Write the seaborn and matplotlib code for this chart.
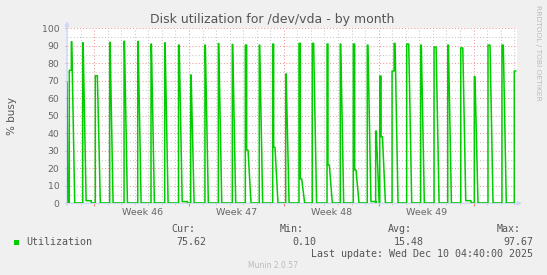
import numpy as np
import pandas as pd
import matplotlib
matplotlib.use("Agg")
import matplotlib.pyplot as plt
import seaborn as sns
from matplotlib.ticker import FixedLocator, MultipleLocator

# ---------------- data (days since graph start) ----------------
start_value = 69.0
baseline = 0.2
spike_start = [0.17, 1.16, 2.09, 3.15, 4.21, 5.22, 6.20, 7.21, 8.23, 9.13,
               10.18, 11.17, 12.20, 13.16, 14.19, 15.18, 16.14, 17.12, 18.10, 19.19,
               20.17, 21.13, 22.16, 22.78, 23.08, 23.99, 25.07, 26.10, 27.09, 28.10,
               29.06, 30.06, 31.07, 32.10, 33.01]
spike_pre = [76.0, 0, 0, 0, 0, 0, 0, 0, 0, 0,
             0, 0, 0, 0, 0, 0, 0, 0, 0, 0,
             0, 0, 0, 0, 0, 75.6, 0, 0, 0, 0,
             0, 0, 0, 0, 0]
spike_peak = [92.3, 91.8, 72.9, 92.0, 92.6, 92.5, 91.0, 91.7, 90.4, 73.3,
              90.4, 91.3, 90.8, 90.4, 90.4, 91.0, 73.9, 91.4, 91.4, 91.0,
              91.0, 91.0, 90.4, 41.3, 72.7, 91.4, 91.0, 90.4, 89.3, 90.4,
              88.8, 72.4, 90.4, 90.4, 75.6]
spike_hold = [0.03, 0.03, 0.15, 0.03, 0.03, 0.03, 0.03, 0.03, 0.05, 0.03,
              0.03, 0.03, 0.03, 0.10, 0.03, 0.07, 0.03, 0.10, 0.10, 0.07,
              0.03, 0.10, 0.05, 0.04, 0.10, 0.07, 0.15, 0.05, 0.15, 0.05,
              0.15, 0.05, 0.15, 0.10, 0.10]
spike_step = [0, 0, 0, 0, 0, 0, 0, 0, 0, 0,
              0, 0, 0, 30.4, 0, 32.0, 0, 13.9, 0, 21.9,
              0, 19.0, 0, 0, 38.0, 0, 0, 0, 0, 0,
              0, 0, 0, 0, 0]
spike_tail = [0, 1.5, 0, 0, 0, 0, 0, 0, 1.0, 0,
              0, 0, 0, 0, 0, 0, 0, 0, 0, 0,
              0, 0, 1.0, 0, 0, 0, 0, 0, 0, 0,
              1.5, 0, 0, 0, 0]

week_bounds = [2.0, 9.0, 16.0, 23.0, 30.0]
week_mid = [5.55, 12.55, 19.55, 26.5]
week_labels = ["Week 46", "Week 47", "Week 48", "Week 49"]
y_ticks = [0, 10, 20, 30, 40, 50, 60, 70, 80, 90, 100]
x_span = 450 / 13.55

legend_name = "Utilization"
stat_names = ["Cur:", "Min:", "Avg:", "Max:"]
stat_values = ["75.62", "0.10", "15.48", "97.67"]
last_update = "Last update: Wed Dec 10 04:40:00 2025"
title = "Disk utilization for /dev/vda - by month"

# ---------------- build polyline ----------------
FALL = 0.22
t = [0.0, 0.07]
v = [start_value, baseline]
n = len(spike_start)
for i in range(n):
    s = spike_start[i]
    t.append(s); v.append(baseline)
    cur = s
    if spike_pre[i] > 0:
        t += [cur, cur + 0.15]; v += [spike_pre[i], spike_pre[i]]
        cur += 0.15
    t += [cur, cur + spike_hold[i]]; v += [spike_peak[i], spike_peak[i]]
    cur += spike_hold[i]
    if spike_step[i] > 0:
        t += [cur, cur + 0.1]; v += [spike_step[i], spike_step[i]]
        cur += 0.1
    if i == n - 1:
        break
    if spike_tail[i] > 0:
        t += [cur + FALL, cur + 0.6, cur + 0.61]
        v += [spike_tail[i], spike_tail[i], baseline]
    else:
        t.append(cur + FALL); v.append(baseline)

df = pd.DataFrame({"t": t, "v": v})

# ---------------- figure ----------------
W, H = 547, 275
fig = plt.figure(figsize=(W / 100, H / 100), dpi=100, facecolor="#F0F0F0")
ax = fig.add_axes([67 / W, 1 - 203.3 / H, 450 / W, 175 / H])
ax.set_facecolor("white")

sns.lineplot(data=df, x="t", y="v", sort=False, estimator=None,
             color="#00CC00", lw=1.1, ax=ax, zorder=5)

ax.set_xlim(0, x_span)
ax.set_ylim(0, 100)
ax.set_xlabel("")
ax.set_ylabel("% busy", fontsize=7.5, color="#555555", labelpad=18)

ax.xaxis.set_major_locator(FixedLocator(week_bounds))
ax.xaxis.set_minor_locator(MultipleLocator(1))
ax.yaxis.set_major_locator(FixedLocator(y_ticks))
ax.yaxis.set_minor_locator(MultipleLocator(5))
ax.set_yticklabels([str(y) for y in y_ticks])
ax.set_axisbelow(True)
ax.grid(which="major", color="#EE9999", ls=(0, (1, 2)), lw=0.75)
ax.grid(which="minor", color="#C8C8C8", ls=(0, (1, 2)), lw=0.75)

ax.tick_params(axis="x", which="major", length=2, color="#F08080", labelbottom=False, direction="out")
ax.tick_params(axis="x", which="minor", length=1.5, color="#CCCCCC", direction="out")
ax.tick_params(axis="y", which="major", length=1.5, color="#AAAAAA", pad=4.0,
               labelsize=6.7, labelcolor="#666666", direction="out")
ax.tick_params(axis="y", which="minor", length=0)
for sp in ax.spines.values():
    sp.set_visible(False)

sec = ax.secondary_xaxis("bottom")
sec.set_xticks(week_mid, week_labels)
sec.tick_params(length=0, pad=3.5, labelsize=6.8, labelcolor="#666666")
for sp in sec.spines.values():
    sp.set_visible(False)

# axis arrows
axis_col = "#CFD6F8"
ax.annotate("", xy=(0, 1 + 7 / 175), xytext=(0, -1.5 / 175), xycoords="axes fraction",
            arrowprops=dict(arrowstyle="-|>", color=axis_col, lw=1, mutation_scale=6,
                            shrinkA=0, shrinkB=0), annotation_clip=False)
ax.annotate("", xy=(1 + 5 / 450, 0), xytext=(-1.5 / 450, 0), xycoords="axes fraction",
            arrowprops=dict(arrowstyle="-|>", color=axis_col, lw=1, mutation_scale=6,
                            shrinkA=0, shrinkB=0), annotation_clip=False, zorder=1)

# texts
def px(x, y):
    return x / W, 1 - y / H

fig.text(*px(272, 20), title, ha="center", va="center", fontsize=9, color="#555555")
fig.text(*px(538, 5), "RRDTOOL / TOBI OETIKER", rotation=270, ha="center", va="top",
         fontsize=5.4, color="#BBBBBB")

mono = dict(family="DejaVu Sans Mono", fontsize=7.2, color="#555555", va="center")
fig.patches.append(plt.Rectangle(px(13.5, 245), 5.5 / W, 5.5 / H, transform=fig.transFigure,
                                 facecolor="#00CC00", edgecolor="none"))
fig.text(*px(26, 242), legend_name, ha="left", **mono)
for x, s in zip([171, 280, 388, 497], stat_names):
    fig.text(*px(x, 229), s, ha="left", **mono)
for x, s in zip([206.6, 316, 424, 533], stat_values):
    fig.text(*px(x, 242), s, ha="right", **mono)
fig.text(*px(533, 254), last_update, ha="right", **mono)
fig.text(*px(273, 266), "Munin 2.0.57", ha="center", va="center", fontsize=5.5, color="#BBBBBB")

fig.savefig("out.png", dpi=100, facecolor=fig.get_facecolor())
